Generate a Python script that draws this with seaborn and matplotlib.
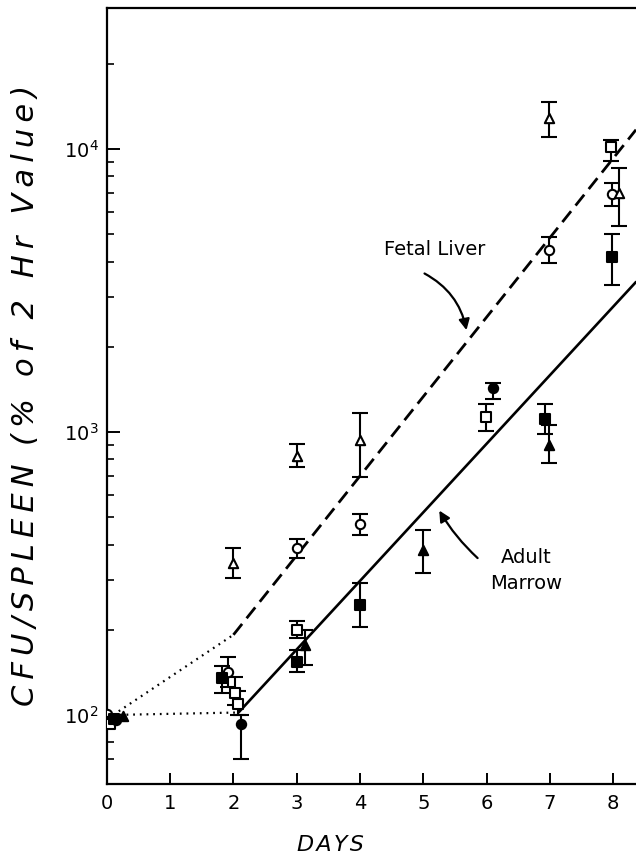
import matplotlib
matplotlib.use("Agg")
import matplotlib.pyplot as plt
import matplotlib.ticker as ticker
import numpy as np
import pandas as pd
import seaborn as sns

# open symbols = fetal liver, filled symbols = adult marrow
# each list: day, CFU (% of 2 hr value), upper bar, lower bar (nan = no bar)
oc_day = [0.0, 1.91, 3.0, 4.0, 6.98, 7.98]
oc_val = [101, 142, 389, 473, 4400, 6940]
oc_hi = [np.nan, 160, 419, 513, 4900, 7600]
oc_lo = [np.nan, 126, 359, 432, 3950, 6300]

ot_day = [0.0, 2.0, 3.0, 4.0, 6.98, 8.09]
ot_val = [95, 344, 822, 937, 12900, 7000]
ot_hi = [np.nan, 389, 906, 1166, 14700, 8600]
ot_lo = [np.nan, 305, 752, 694, 11000, 5350]

os_day = [0.05, 2.02, 2.07, 3.0, 5.99, 7.96]
os_val = [93, 120, 109, 200, 1130, 10150]
os_hi = [np.nan, 136, 122, 215, 1260, 10800]
os_lo = [np.nan, 108, 100, 187, 1010, 9100]

fs_day = [0.12, 1.82, 3.0, 4.0, 6.92, 7.98]
fs_val = [97, 135, 154, 245, 1110, 4150]
fs_hi = [np.nan, 149, 170, 292, 1260, 5000]
fs_lo = [np.nan, 120, 142, 205, 980, 3300]

fc_day = [0.15, 2.12, 6.1]
fc_val = [96, 93, 1430]
fc_hi = [np.nan, 100, 1490]
fc_lo = [np.nan, 70, 1310]

ft_day = [0.25, 3.13, 5.0, 6.98]
ft_val = [99, 177, 383, 900]
ft_hi = [np.nan, 200, 450, 1060]
ft_lo = [np.nan, 150, 318, 780]

# fitted lines and dotted connections
fetal_day = [2.0, 8.36]
fetal_val = [192, 11700]
adult_day = [2.08, 8.36]
adult_val = [102, 3390]
fetal_dot_day = [0.1, 2.0]
fetal_dot_val = [100, 192]
adult_dot_day = [0.1, 2.08]
adult_dot_val = [100, 102]

minor_ticks = [70, 80, 90] + [k * 100 for k in range(2, 10)] + \
              [k * 1000 for k in range(2, 10)] + [20000]

sns.set_theme(style="ticks", rc={"text.color": "black", "xtick.color": "black",
                                 "ytick.color": "black", "axes.edgecolor": "black"})
plt.rcParams["font.family"] = ["DejaVu Sans"]

fig = plt.figure(figsize=(6.36, 8.61), dpi=100)
ax = fig.add_axes([0.168, 0.0894, 0.832, 0.9013])
ax.set_yscale("log")

sns.lineplot(x=fetal_day, y=fetal_val, ax=ax, color="black", lw=2.0, estimator=None)
ax.lines[-1].set_dashes([5, 2.6])
sns.lineplot(x=adult_day, y=adult_val, ax=ax, color="black", lw=1.9, estimator=None)
sns.lineplot(x=fetal_dot_day, y=fetal_dot_val, ax=ax, color="black", lw=1.6, estimator=None)
ax.lines[-1].set_dashes([0.8, 2.2])
sns.lineplot(x=adult_dot_day, y=adult_dot_val, ax=ax, color="black", lw=1.6, estimator=None)
ax.lines[-1].set_dashes([0.8, 2.2])

series = [
    (oc_day, oc_val, oc_hi, oc_lo, "o", "white"),
    (ot_day, ot_val, ot_hi, ot_lo, "^", "white"),
    (os_day, os_val, os_hi, os_lo, "s", "white"),
    (fs_day, fs_val, fs_hi, fs_lo, "s", "black"),
    (fc_day, fc_val, fc_hi, fc_lo, "o", "black"),
    (ft_day, ft_val, ft_hi, ft_lo, "^", "black"),
]
for d, v, hi, lo, m, fc in series:
    df = pd.DataFrame({"day": d, "cfu": v, "hi": hi, "lo": lo})
    bars = df.dropna()
    ax.errorbar(bars["day"], bars["cfu"],
                yerr=[bars["cfu"] - bars["lo"], bars["hi"] - bars["cfu"]],
                fmt="none", ecolor="black", elinewidth=1.5, capsize=6, capthick=1.5, zorder=3)
    sns.scatterplot(data=df, x="day", y="cfu", ax=ax, marker=m, s=45, color=fc,
                    edgecolor="black", linewidth=1.5, zorder=4)

ax.set_xlim(0, 8.36)
ax.set_ylim(57, 31500)
ax.set_xlabel("")
ax.set_ylabel("")

ax.xaxis.set_major_locator(ticker.MultipleLocator(1))
ax.yaxis.set_major_locator(ticker.LogLocator(base=10))
ax.yaxis.set_minor_locator(ticker.FixedLocator(minor_ticks))
ax.yaxis.set_minor_formatter(ticker.NullFormatter())
ax.tick_params(axis="x", direction="in", length=8, width=1.4, pad=7, labelsize=14)
ax.tick_params(axis="y", which="major", direction="in", length=9, width=1.4, pad=6, labelsize=14)
ax.tick_params(axis="y", which="minor", direction="in", length=5, width=1.2)
for side in ["left", "bottom", "top"]:
    ax.spines[side].set_linewidth(1.6)
ax.spines["right"].set_visible(False)

ax.text(5.18, 4400, "Fetal Liver", fontsize=14, ha="center", va="center")
ax.annotate("", xy=(5.69, 2240), xytext=(4.98, 3670),
            arrowprops=dict(arrowstyle="-|>", connectionstyle="arc3,rad=-0.25",
                            lw=1.6, color="black", mutation_scale=16))
ax.text(6.63, 323, "Adult\nMarrow", fontsize=14, ha="center", va="center", linespacing=1.45)
ax.annotate("", xy=(5.23, 538), xytext=(5.89, 353),
            arrowprops=dict(arrowstyle="-|>", connectionstyle="arc3,rad=-0.08",
                            lw=1.6, color="black", mutation_scale=16))

ylab = "\u2009".join("CFU/SPLEEN") + "\u2009\u2009\u2009" + "\u2009".join("(% of 2 Hr Value)")
fig.text(0.04, 0.541, ylab, rotation=90, ha="center", va="center",
         fontsize=22, style="italic")
fig.text(0.519, 0.0186, "\u200a".join("DAYS"), ha="center", va="center", fontsize=16, style="italic")

fig.savefig("out.png", dpi=100)
